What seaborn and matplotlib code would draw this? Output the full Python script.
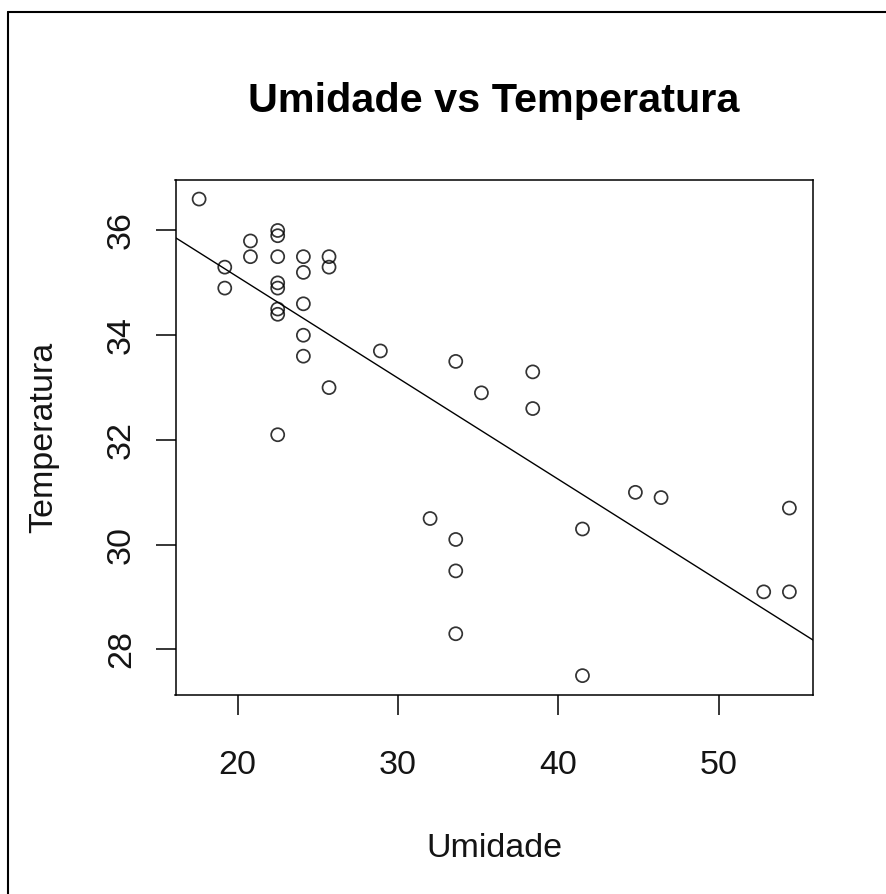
import numpy as np
import pandas as pd
import seaborn as sns
import matplotlib
matplotlib.use("Agg")
import matplotlib.pyplot as plt
from matplotlib.lines import Line2D

# Humidity (%) and temperature (°C) readings
umidade = [17.6, 19.2, 19.2, 20.8, 20.8,
           22.5, 22.5, 22.5, 22.5, 22.5, 22.5, 22.5, 22.5,
           24.1, 24.1, 24.1, 24.1, 24.1,
           25.7, 25.7, 25.7,
           28.9, 32.0,
           33.6, 33.6, 33.6, 33.6,
           35.2, 38.4, 38.4, 41.5, 41.5,
           44.8, 46.4, 52.8, 54.4, 54.4]
temperatura = [36.6, 35.3, 34.9, 35.8, 35.5,
               36.0, 35.9, 35.5, 35.0, 34.9, 34.5, 34.4, 32.1,
               35.5, 35.2, 34.6, 34.0, 33.6,
               35.5, 35.3, 33.0,
               33.7, 30.5,
               33.5, 30.1, 29.5, 28.3,
               32.9, 33.3, 32.6, 30.3, 27.5,
               31.0, 30.9, 29.1, 30.7, 29.1]
x_ticks = [20, 30, 40, 50]
y_ticks = [28, 30, 32, 34, 36]

df = pd.DataFrame({"Umidade": umidade, "Temperatura": temperatura})

sns.set_theme(style="white")
plt.rcParams["font.family"] = ["Liberation Sans", "DejaVu Sans"]

W, H = 886, 894
fig = plt.figure(figsize=(W / 100, H / 100), dpi=100)
fig.patch.set_facecolor("white")

# plot region in pixels
left, right, top, bottom = 175.5, 813.0, 180.0, 694.7
ax = fig.add_axes([left / W, 1 - bottom / H, (right - left) / W, (bottom - top) / H])
ax.set_facecolor("white")

sns.regplot(data=df, x="Umidade", y="Temperatura", ax=ax, ci=None, truncate=False,
            scatter_kws=dict(s=88, facecolors="none", edgecolors="black", linewidths=1.25),
            line_kws=dict(color="black", linewidth=1.0))

# axis ranges padded by 4% of the data span
def padded(v):
    lo, hi = min(v), max(v)
    d = (hi - lo) * 0.04
    return lo - d, hi + d

ax.set_xlim(*padded(umidade))
ax.set_ylim(*padded(temperatura))

for s in ax.spines.values():
    s.set_visible(True)
    s.set_color("black")
    s.set_linewidth(1.1)

ax.set_xticks(x_ticks)
ax.set_yticks(y_ticks)
ax.set_xticklabels([str(t) for t in x_ticks])
ax.set_yticklabels([str(t) for t in y_ticks])
fs = 24.5
ax.tick_params(axis="both", direction="out", length=14.4, width=1.1, color="black",
               labelsize=fs, labelcolor="#141414", bottom=True, left=True)
ax.tick_params(axis="x", pad=42.7)
ax.tick_params(axis="y", pad=18.4)
for lab in ax.get_xticklabels():
    lab.set_va("baseline")
for lab in ax.get_yticklabels():
    lab.set_rotation(90)
    lab.set_rotation_mode("anchor")
    lab.set_ha("center")
    lab.set_va("baseline")

ax.set_title("Umidade vs Temperatura", fontsize=29.8, fontweight="bold", pad=49, color="black")
ax.set_xlabel("Umidade", fontsize=fs, color="#141414")
ax.set_ylabel("Temperatura", fontsize=fs, color="#141414")
ax.xaxis.label.set_va("baseline")
ax.xaxis.set_label_coords(0.5, (bottom - 857) / (bottom - top))
ax.yaxis.label.set_va("baseline")
ax.yaxis.set_label_coords((52 - left) / (right - left), 0.5)

# window frame along the left and top edges
fx, fy = 8 / W, 1 - 12 / H
fig.add_artist(Line2D([fx, fx], [-0.01, fy], transform=fig.transFigure, color="black", linewidth=1.5))
fig.add_artist(Line2D([fx, 1.01], [fy, fy], transform=fig.transFigure, color="black", linewidth=1.5))

fig.savefig("out.png", dpi=100, facecolor="white")
